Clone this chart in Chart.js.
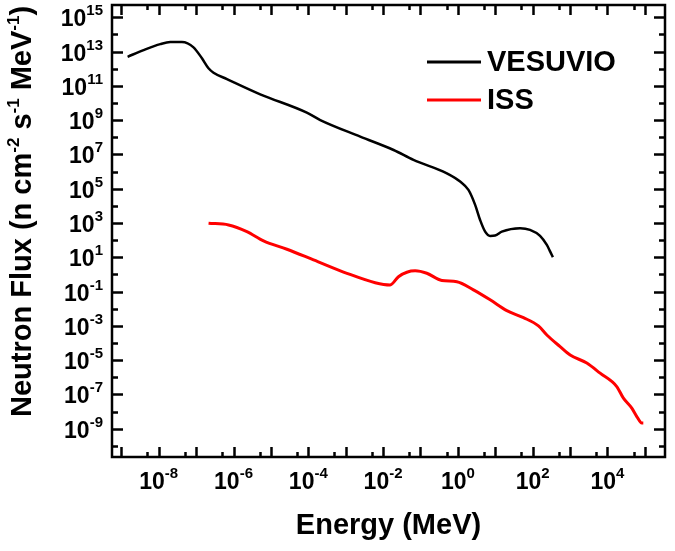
<!DOCTYPE html>
<html>
<head>
<meta charset="utf-8">
<script src="https://cdn.jsdelivr.net/npm/chart.js@4"></script>
<style>
  body { margin: 0; background: #fff; }
</style>
</head>
<body>
<canvas id="grafico" width="675" height="551"></canvas>
<script>
// dados (energia em MeV, fluxo em n cm^-2 s^-1 MeV^-1)
const vesuvioEnergia = [1.47e-9, 3.93e-9, 1.10e-8, 2.04e-8, 4.17e-8, 8.51e-8, 1.43e-7, 2.14e-7, 2.92e-7, 6.67e-7,
  5.18e-6, 9.12e-5, 2.09e-4, 2.45e-3, 1.91e-2, 6.50e-2, 0.508, 1.15, 1.92, 2.90,
  3.94, 5.37, 7.31, 9.93, 15.0, 46.3, 85.1, 158, 240, 295, 347];
const vesuvioFluxo = [5.0e12, 1.23e13, 2.75e13, 3.63e13, 3.63e13, 1.78e13, 4.07e12, 1.07e12, 5.89e11, 2.51e11,
  3.24e10, 2.75e9, 1.02e9, 1.10e8, 1.82e7, 4.79e6, 7.94e5, 2.63e5, 8.51e4, 1.15e4,
  1.51e3, 316, 178, 186, 316, 501, 398, 178, 52.5, 21.4, 10.2];

const issEnergia = [2.15e-7, 7.35e-7, 2.28e-6, 6.34e-6, 2.68e-5, 1.38e-4, 1.08e-3, 6.15e-3, 1.55e-2, 2.58e-2,
  4.33e-2, 7.21e-2, 0.148, 0.373, 0.940, 2.61, 7.31, 20.4, 56.8, 143,
  240, 543, 1.01e3, 2.81e3, 6.38e3, 1.78e4, 2.68e4, 4.49e4, 6.11e4, 8.32e4, 9.12e4];
const issFluxo = [977, 776, 316, 91.2, 29.5, 7.08, 1.17, 0.331, 0.245, 0.741,
  1.35, 1.62, 1.17, 0.447, 0.380, 0.126, 3.31e-2, 7.76e-3, 3.02e-3, 1.0e-3,
  2.95e-4, 6.17e-5, 2.0e-5, 6.76e-6, 1.74e-6, 2.88e-7, 6.03e-8, 1.58e-8, 5.13e-9, 2.14e-9, 2.14e-9];

const nomesSeries = ['VESUVIO', 'ISS'];
const coresSeries = ['#000000', '#ff0000'];

// expoentes dos rótulos dos eixos
const expoentesX = [-8, -6, -4, -2, 0, 2, 4];
const expoentesY = [15, 13, 11, 9, 7, 5, 3, 1, -1, -3, -5, -7, -9];

const fonte = '"Liberation Sans", Arial, sans-serif';

//junta energia e fluxo em pontos {x, y}
function pontos(energia, fluxo) {
  return energia.map((e, i) => ({ x: e, y: fluxo[i] }));
}

//escreve "10" com o expoente em sobrescrito
function potencia(ctx, exp, xRef, yBase, alinhar) {
  const base = '10';
  const sup = String(exp).replace('-', '-');
  ctx.font = 'bold 23px ' + fonte;
  const wBase = ctx.measureText(base).width;
  ctx.font = 'bold 15px ' + fonte;
  const wSup = ctx.measureText(sup).width;
  const total = wBase + wSup;
  let x0 = alinhar === 'right' ? xRef - total : xRef - total / 2;
  ctx.textAlign = 'left';
  ctx.textBaseline = 'alphabetic';
  ctx.font = 'bold 23px ' + fonte;
  ctx.fillText(base, x0, yBase);
  ctx.font = 'bold 15px ' + fonte;
  ctx.fillText(sup, x0 + wBase, yBase - 11);
}

//escreve pedaços de texto normal e sobrescrito em sequência
function textoMisto(ctx, partes, x0, yBase, tam, tamSup) {
  let x = x0;
  partes.forEach(p => {
    ctx.font = 'bold ' + (p.sup ? tamSup : tam) + 'px ' + fonte;
    ctx.fillText(p.t, x, p.sup ? yBase - 12 : yBase);
    x += ctx.measureText(p.t).width;
  });
  return x - x0;
}

//plugin que desenha moldura, ticks pra dentro, rótulos, títulos e legenda
const moldura = {
  id: 'moldura',
  afterDraw(chart) {
    const { ctx, chartArea: a, scales: { x, y } } = chart;
    ctx.save();
    ctx.strokeStyle = '#000';
    ctx.fillStyle = '#000';
    ctx.lineWidth = 2.5;
    ctx.lineCap = 'butt';

    //ticks do eixo x (maior em cada década, menor em 5x10^n)
    const ex0 = Math.floor(Math.log10(x.min));
    const ex1 = Math.ceil(Math.log10(x.max));
    ctx.beginPath();
    for (let e = ex0; e <= ex1; e++) {
      [[Math.pow(10, e), 10], [5 * Math.pow(10, e), 5]].forEach(([v, len]) => {
        if (v <= x.min || v >= x.max) return;
        const px = Math.round(x.getPixelForValue(v)) + 0.5;
        ctx.moveTo(px, a.bottom); ctx.lineTo(px, a.bottom - len);
        ctx.moveTo(px, a.top); ctx.lineTo(px, a.top + len);
      });
    }
    //ticks do eixo y (maior nos expoentes ímpares)
    const ey0 = Math.floor(Math.log10(y.min));
    const ey1 = Math.ceil(Math.log10(y.max));
    for (let e = ey0; e <= ey1; e++) {
      const v = Math.pow(10, e);
      if (v <= y.min || v >= y.max) continue;
      const len = Math.abs(e % 2) === 1 ? 11 : 6;
      const py = Math.round(y.getPixelForValue(v)) + 0.5;
      ctx.moveTo(a.left, py); ctx.lineTo(a.left + len, py);
      ctx.moveTo(a.right, py); ctx.lineTo(a.right - len, py);
    }
    ctx.stroke();

    //moldura
    ctx.strokeRect(a.left, a.top, a.right - a.left, a.bottom - a.top);

    //rótulos
    expoentesX.forEach(e => potencia(ctx, e, x.getPixelForValue(Math.pow(10, e)), a.bottom + 32, 'center'));
    expoentesY.forEach(e => potencia(ctx, e, a.left - 9, y.getPixelForValue(Math.pow(10, e)) + 9, 'right'));

    //título do eixo x
    ctx.font = 'bold 29px ' + fonte;
    ctx.textAlign = 'center';
    ctx.fillText('Energy (MeV)', (a.left + a.right) / 2, 534);

    //título do eixo y, girado
    ctx.save();
    ctx.translate(31, 417);
    ctx.rotate(-Math.PI / 2);
    ctx.textAlign = 'left';
    textoMisto(ctx, [
      { t: 'Neutron Flux (n cm' }, { t: '-2', sup: true },
      { t: ' s' }, { t: '-1', sup: true },
      { t: ' MeV' }, { t: '-1', sup: true }, { t: ')' }
    ], 0, 0, 29, 17);
    ctx.restore();

    //legenda
    chart.data.datasets.forEach((ds, i) => {
      const ly = 62 + i * 38;
      ctx.strokeStyle = ds.borderColor;
      ctx.lineWidth = 3;
      ctx.beginPath();
      ctx.moveTo(427, ly); ctx.lineTo(481, ly);
      ctx.stroke();
      ctx.font = 'bold 29px ' + fonte;
      ctx.textAlign = 'left';
      ctx.textBaseline = 'middle';
      ctx.fillText(ds.label, 487, ly + 1);
      ctx.textBaseline = 'alphabetic';
    });
    ctx.restore();
  }
};

const grafico = new Chart(document.getElementById('grafico'), {
  type: 'line',
  data: {
    datasets: [{
      label: nomesSeries[0],
      data: pontos(vesuvioEnergia, vesuvioFluxo),
      borderColor: coresSeries[0],
      borderWidth: 2.5,
      pointRadius: 0,
      cubicInterpolationMode: 'monotone',
      fill: false
    }, {
      label: nomesSeries[1],
      data: pontos(issEnergia, issFluxo),
      borderColor: coresSeries[1],
      borderWidth: 3,
      pointRadius: 0,
      cubicInterpolationMode: 'monotone',
      fill: false
    }]
  },
  options: {
    responsive: false,
    animation: false,
    layout: { padding: { left: 112, right: 10, top: 5, bottom: 94 } },
    plugins: { legend: { display: false }, tooltip: { enabled: false } },
    scales: {
      x: { type: 'logarithmic', min: 5.62e-10, max: 3.47e5, display: false },
      y: { type: 'logarithmic', min: 2.24e-11, max: 5.25e15, display: false }
    }
  },
  plugins: [moldura]
});
</script>
</body>
</html>
